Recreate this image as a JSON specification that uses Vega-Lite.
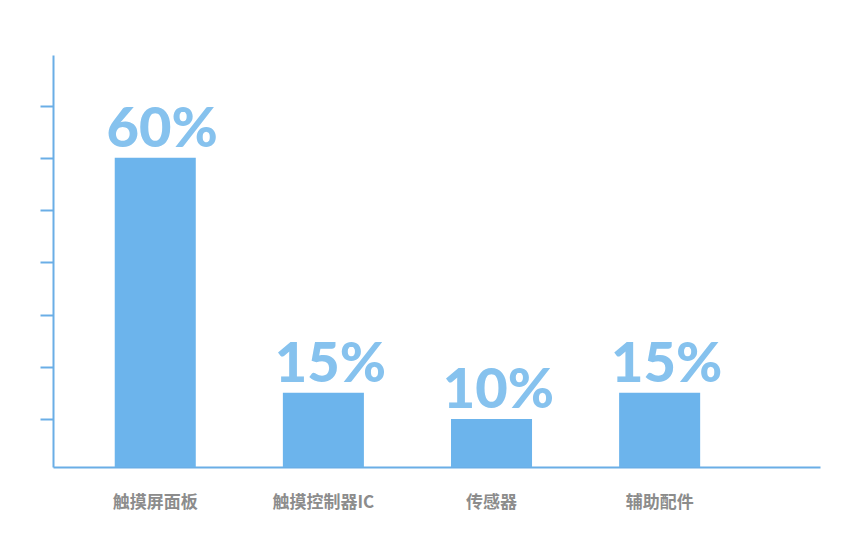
{
  "$schema": "https://vega.github.io/schema/vega-lite/v6.json",
  "autosize": "none",
  "padding": {"left": 53, "top": 55, "right": 40, "bottom": 71},
  "width": 767,
  "height": 412,
  "background": "white",
  "data": {"values": [
    {"category": "触摸屏面板", "share": 60, "label": "60%"},
    {"category": "触摸控制器IC", "share": 15, "label": "15%"},
    {"category": "传感器", "share": 10, "label": "10%"},
    {"category": "辅助配件", "share": 15, "label": "15%"}
  ]},
  "config": {"view": {"stroke": null}},
  "encoding": {
    "x": {"field": "category", "type": "nominal", "sort": null,
      "scale": {"paddingInner": 0.518, "paddingOuter": 0.54, "align": 0.34},
      "axis": {"title": null, "labelAngle": 0, "domainColor": "#6aaee6", "domainWidth": 2, "ticks": false,
        "labelFont": "Noto Sans CJK SC", "labelFontSize": 17, "labelFontWeight": "bold", "labelColor": "#8c8c8c", "labelPadding": 27}},
    "y": {"field": "share", "type": "quantitative",
      "scale": {"domain": [0.8, 79.7], "nice": false, "zero": false},
      "axis": {"title": null, "labels": false, "grid": false, "values": [10, 20, 30, 40, 50, 60, 70],
        "domainColor": "#6aaee6", "domainWidth": 2, "tickColor": "#6aaee6", "tickWidth": 2, "tickSize": 13}}
  },
  "layer": [
    {"mark": {"type": "bar", "color": "#6cb4ec"},
     "encoding": {"y2": {"datum": 0.8}}},
    {"mark": {"type": "text", "baseline": "alphabetic", "dy": -11, "dx": 7, "font": "Lato", "fontWeight": 900, "fontSize": 56, "color": "#86c2ee"},
     "encoding": {"text": {"field": "label"}}}
  ]
}
